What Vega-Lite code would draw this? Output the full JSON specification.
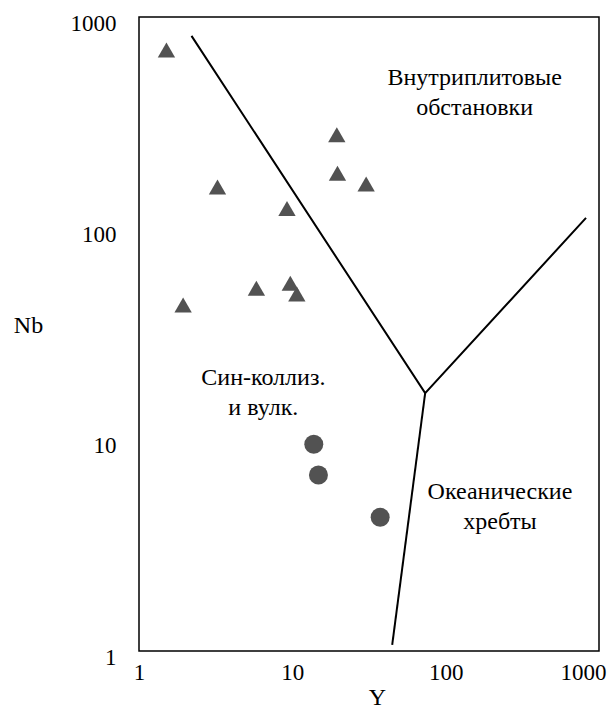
{
  "$schema": "https://vega.github.io/schema/vega-lite/v6.json",
  "width": 460,
  "height": 634,
  "autosize": {"type": "none"},
  "padding": {"left": 139, "top": 17, "right": 10, "bottom": 57},
  "background": "white",
  "config": {
    "view": {"stroke": "black", "strokeWidth": 1.5},
    "font": "Liberation Serif",
    "axis": {
      "grid": false,
      "domain": false,
      "ticks": false,
      "labelFont": "Liberation Serif",
      "labelFontSize": 23,
      "labelColor": "black",
      "titleFont": "Liberation Serif",
      "titleFontSize": 24,
      "titleFontWeight": "normal",
      "titleColor": "black"
    }
  },
  "encoding": {
    "x": {
      "field": "Y",
      "type": "quantitative",
      "scale": {"type": "log", "domain": [1, 1000], "nice": false},
      "axis": {
        "title": "Y",
        "values": [1, 10, 100, 1000],
        "format": "d",
        "labelPadding": 10,
        "labelFlush": false,
        "labelOffset": {"condition": {"test": "datum.value == 1000", "value": -16}, "value": 0},
        "titleX": 238,
        "titleY": 46,
        "titleBaseline": "middle",
        "titleAlign": "center"
      }
    },
    "y": {
      "field": "Nb",
      "type": "quantitative",
      "scale": {"type": "log", "domain": [1, 1000], "nice": false},
      "axis": {
        "title": "Nb",
        "values": [1, 10, 100, 1000],
        "format": "d",
        "labelPadding": 23,
        "labelOffset": 6,
        "labelFlush": false,
        "titleAngle": 0,
        "titleX": -111,
        "titleY": 308,
        "titleBaseline": "middle",
        "titleAlign": "center"
      }
    }
  },
  "layer": [
    {
      "data": {
        "values": [
          {"seg": "a", "ord": 1, "Y": 2.2, "Nb": 814},
          {"seg": "a", "ord": 2, "Y": 73.5, "Nb": 16.6},
          {"seg": "a", "ord": 3, "Y": 823, "Nb": 112},
          {"seg": "b", "ord": 1, "Y": 73.5, "Nb": 16.6},
          {"seg": "b", "ord": 2, "Y": 44.8, "Nb": 1.07}
        ]
      },
      "mark": {"type": "line", "color": "black", "strokeWidth": 2},
      "encoding": {
        "detail": {"field": "seg"},
        "order": {"field": "ord", "type": "quantitative"}
      }
    },
    {
      "data": {
        "values": [
          {"Y": 1.51, "Nb": 698},
          {"Y": 19.5, "Nb": 277},
          {"Y": 19.7, "Nb": 182},
          {"Y": 30.3, "Nb": 162},
          {"Y": 3.25, "Nb": 157},
          {"Y": 9.23, "Nb": 124},
          {"Y": 5.83, "Nb": 52.1},
          {"Y": 9.7, "Nb": 55.0},
          {"Y": 10.7, "Nb": 48.9},
          {"Y": 1.94, "Nb": 43.4}
        ]
      },
      "mark": {"type": "point", "shape": "triangle-up", "filled": true, "color": "#525252", "opacity": 1, "size": 300}
    },
    {
      "data": {
        "values": [
          {"Y": 13.8, "Nb": 9.51},
          {"Y": 14.8, "Nb": 6.81},
          {"Y": 37.4, "Nb": 4.29}
        ]
      },
      "mark": {"type": "point", "shape": "circle", "filled": true, "color": "#525252", "opacity": 1, "size": 361}
    },
    {
      "data": {
        "values": [
          {"Y": 154.5, "Nb": 515, "label": "Внутриплитовые\nобстановки"},
          {"Y": 6.47, "Nb": 19.6, "label": "Син-коллиз.\nи вулк."},
          {"Y": 226, "Nb": 5.65, "label": "Океанические\nхребты"}
        ]
      },
      "mark": {"type": "text", "font": "Liberation Serif", "fontSize": 24, "color": "black", "align": "center", "baseline": "middle", "lineBreak": "\n", "lineHeight": 30},
      "encoding": {"text": {"field": "label"}}
    }
  ]
}
